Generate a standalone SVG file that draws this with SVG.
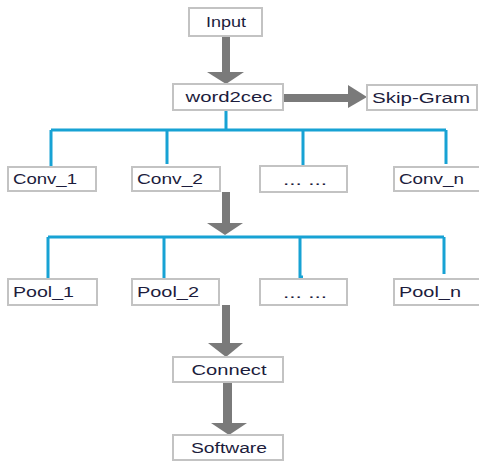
<svg xmlns="http://www.w3.org/2000/svg" width="479" height="462" viewBox="0 0 479 462">
<style>
.box{fill:#ffffff;stroke:#c3c3c3;stroke-width:2}
.t{font-family:"Liberation Sans",Arial,sans-serif;font-size:14px;fill:#1c1c3c}
.c{text-anchor:middle}
.blue{fill:none;stroke:#17a2d4;stroke-width:3}
.arr{fill:#7a7a7a}
</style>
<rect width="479" height="462" fill="#ffffff"/>
<g id="connectors">
<path class="blue" d="M226,110V130M51,130H446M51,130V167M167,130V164M303,130V166M446,130V164"/>
<path class="blue" d="M48,237H444M48,237V279M164,237V279M300,237V277H303M444,237V274"/>
<g class="arr">
<rect x="222" y="36" width="8" height="36"/><polygon points="207,72 244,72 226,84"/>
<rect x="283" y="94" width="65" height="8"/><polygon points="348,85 348,108 367,97"/>
<rect x="222" y="192" width="8" height="31"/><polygon points="207,223 243,223 225,235"/>
<rect x="222" y="305" width="8" height="38"/><polygon points="208,343 243,343 226,357"/>
<rect x="223" y="382" width="9" height="41"/><polygon points="211,423 247,423 229,435"/>
</g>
</g>
<g id="input"><rect class="box" x="189" y="8" width="73" height="28"/><text class="t c" x="226" y="27" textLength="40" lengthAdjust="spacingAndGlyphs">Input</text></g>
<g id="word2cec"><rect class="box" x="173" y="84" width="110" height="26"/><text class="t c" x="229" y="102" textLength="87" lengthAdjust="spacingAndGlyphs">word2cec</text></g>
<g id="skipgram"><rect class="box" x="367" y="85" width="110" height="25"/><text class="t" x="372" y="103" textLength="98" lengthAdjust="spacingAndGlyphs">Skip-Gram</text></g>
<g id="conv1"><rect class="box" x="8" y="167" width="88" height="24"/><text class="t" x="13" y="184" textLength="64" lengthAdjust="spacingAndGlyphs">Conv_1</text></g>
<g id="conv2"><rect class="box" x="132" y="167" width="88" height="24"/><text class="t" x="137" y="184" textLength="66" lengthAdjust="spacingAndGlyphs">Conv_2</text></g>
<g id="convdots"><rect class="box" x="260" y="166" width="87" height="26"/><text class="t c" x="305" y="185" textLength="44" lengthAdjust="spacingAndGlyphs" fill="#8a8a9a">... ...</text></g>
<g id="convn"><rect class="box" x="394" y="167" width="90" height="24"/><text class="t" x="399" y="184" textLength="65" lengthAdjust="spacingAndGlyphs">Conv_n</text></g>
<g id="pool1"><rect class="box" x="8" y="279" width="89" height="26"/><text class="t" x="13" y="297" textLength="61" lengthAdjust="spacingAndGlyphs">Pool_1</text></g>
<g id="pool2"><rect class="box" x="132" y="279" width="87" height="26"/><text class="t" x="137" y="297" textLength="62" lengthAdjust="spacingAndGlyphs">Pool_2</text></g>
<g id="pooldots"><rect class="box" x="260" y="279" width="87" height="26"/><text class="t c" x="305" y="298" textLength="44" lengthAdjust="spacingAndGlyphs" fill="#8a8a9a">... ...</text></g>
<g id="pooln"><rect class="box" x="394" y="279" width="90" height="26"/><text class="t" x="399" y="297" textLength="62" lengthAdjust="spacingAndGlyphs">Pool_n</text></g>
<g id="connect"><rect class="box" x="173" y="357" width="110" height="25"/><text class="t c" x="229" y="375" textLength="75" lengthAdjust="spacingAndGlyphs">Connect</text></g>
<g id="software"><rect class="box" x="173" y="435" width="110" height="25"/><text class="t c" x="229" y="453" textLength="76" lengthAdjust="spacingAndGlyphs">Software</text></g>
</svg>
